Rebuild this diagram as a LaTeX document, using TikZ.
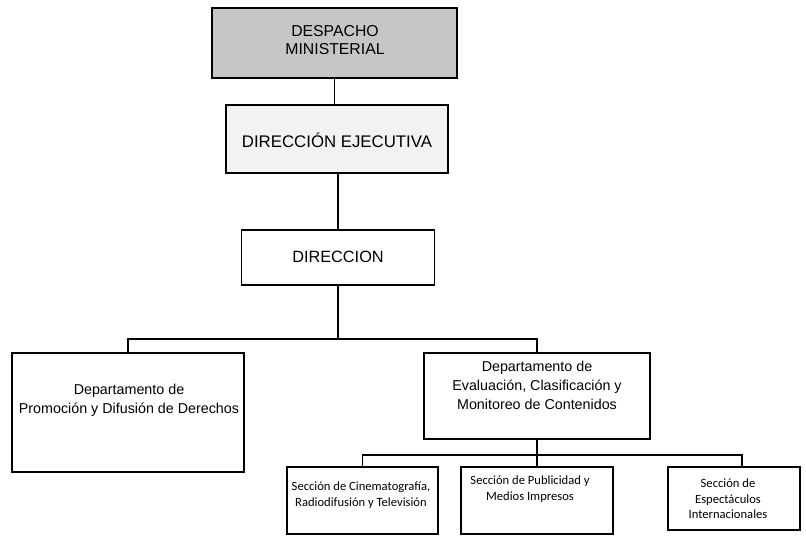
\documentclass[tikz,border=0pt]{standalone}
\usepackage{fontspec}
\setmainfont{Liberation Sans}
\newfontfamily\secfont{Carlito}
\begin{document}
\begin{tikzpicture}[x=1pt,y=-1pt,
  box/.style={draw=black,line width=1.4pt,inner sep=0pt,fill=white},
  heavybox/.style={draw=black,line width=2.8pt,inner sep=0pt},
  conn/.style={draw=black,line width=1.4pt},
  txt/.style={align=center,inner sep=0pt},
  deptfont/.style={font=\fontsize{14.3}{19}\selectfont},
  secstyle/.style={font=\secfont\fontsize{12.6}{15.5}\selectfont}
]
\useasboundingbox (0,0) rectangle (806,536);
\fill[white] (0,0) rectangle (806,536);

% boxes
\node[heavybox,fill=gray!45,minimum width=245pt,minimum height=70pt] (desp) at (334.5,43) {};
\node[heavybox,fill=gray!10,minimum width=222pt,minimum height=68pt] (dej) at (337,139) {};
\node[box,minimum width=193pt,minimum height=55pt] (dir) at (338,257.5) {};
\node[box,minimum width=232pt,minimum height=119pt] (dep1) at (128,412.5) {};
\node[box,minimum width=226pt,minimum height=86pt] (dep2) at (537,396) {};
\node[box,minimum width=151pt,minimum height=67pt] (s1) at (362.5,500.5) {};
\node[box,minimum width=152pt,minimum height=67pt] (s2) at (537,500.5) {};
\node[box,minimum width=132pt,minimum height=63pt] (s3) at (734,498.5) {};

% texts
\node[txt,font=\fontsize{15.8}{18.5}\selectfont] (tdesp) at (335,40) {DESPACHO\\MINISTERIAL};
\node[txt,font=\fontsize{16.8}{20}\selectfont] (tdej) at (337,140) {DIRECCIÓN EJECUTIVA};
\node[txt,font=\fontsize{16.3}{20}\selectfont] (tdir) at (338,257) {DIRECCION};
\node[txt,deptfont] (tdep1) at (129,400) {Departamento de\\Promoción y Difusión de Derechos};
\node[txt,deptfont] (tdep2) at (537,385) {Departamento de\\Evaluación, Clasificación y\\Monitoreo de Contenidos};
\node[txt,secstyle] (ts1) at (361,495) {Sección de Cinematografía,\\Radiodifusión y Televisión};
\node[txt,secstyle] (ts2) at (530,489) {Sección de Publicidad y\\Medios Impresos};
\node[txt,secstyle] (ts3) at (728,499) {Sección de\\Espectáculos\\Internacionales};

% connectors
\coordinate (bus1) at (338,339);
\coordinate (bus2) at (537,455);
\draw[conn] (desp.south) -- (desp.south |- dej.north);
\draw[conn] (dej.south -| dir.north) -- (dir.north);
\draw[conn] (dir.south) -- (bus1);
\draw[conn] (dep1.north) |- (bus1) -| (dep2.north);
\draw[conn] (dep2.south) -- (s2.north);
\draw[conn] (s1.north) |- (bus2);
\draw[conn] (bus2) -| ([xshift=8pt]s3.north);
\end{tikzpicture}
\end{document}
